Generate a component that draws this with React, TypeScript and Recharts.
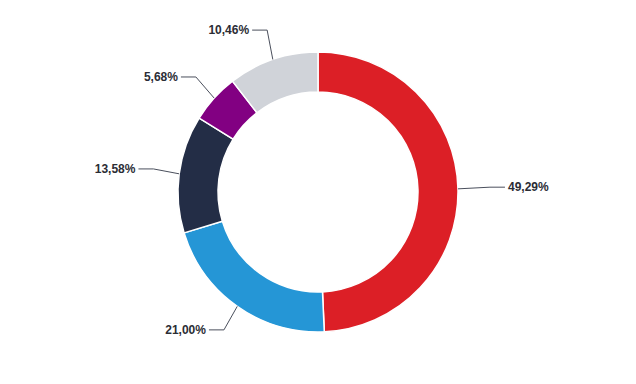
import React from 'react';
import { PieChart, Pie, Cell } from 'recharts';

const categories = ['A', 'B', 'C', 'D', 'E'];
const values = [49.29, 21.0, 13.58, 5.68, 10.46];
const colors = ['#DC1F26', '#2596D6', '#232D46', '#820082', '#D0D3D9'];

const data = categories.map((name, i) => ({ name, value: values[i] }));

const RAD = Math.PI / 180;

const renderLabel = (props: any) => {
  const { cx, cy, midAngle, outerRadius, value } = props;
  const cos = Math.cos(-midAngle * RAD);
  const sin = Math.sin(-midAngle * RAD);
  const sx = cx + outerRadius * cos;
  const sy = cy + outerRadius * sin;
  const right = cos >= 0;
  const dir = right ? 1 : -1;
  const ex = cx + (outerRadius + 30) * cos + (right ? 2 : 4);
  const ey = cy + (outerRadius + 30) * sin - 1;
  const hx = ex + dir * 15;
  const tx = ex + dir * 18;
  const text = value.toFixed(2).replace('.', ',') + '%';
  return (
    <g>
      <path
        d={`M${sx},${sy}L${ex},${ey}L${hx},${ey}`}
        stroke="#4a4f5c"
        strokeWidth={1}
        fill="none"
      />
      <text
        x={tx}
        y={ey}
        textAnchor={right ? 'start' : 'end'}
        dominantBaseline="central"
        fill="#2b2d35"
        fontSize={12}
        fontWeight="bold"
        fontFamily="'Liberation Sans', Arial, sans-serif"
      >
        {text}
      </text>
    </g>
  );
};

export default function App() {
  return (
    <div style={{ width: 620, height: 368 }}>
      <PieChart width={620} height={368} margin={{ top: 0, right: 0, bottom: 0, left: 0 }}>
        <Pie
          data={data}
          dataKey="value"
          cx={310}
          cy={184}
          innerRadius={100}
          outerRadius={140}
          startAngle={90}
          endAngle={-270}
          stroke="#ffffff"
          strokeWidth={1.5}
          label={renderLabel}
          labelLine={false}
          isAnimationActive={false}
        >
          {data.map((d, i) => (
            <Cell key={d.name} fill={colors[i]} />
          ))}
        </Pie>
      </PieChart>
    </div>
  );
}
